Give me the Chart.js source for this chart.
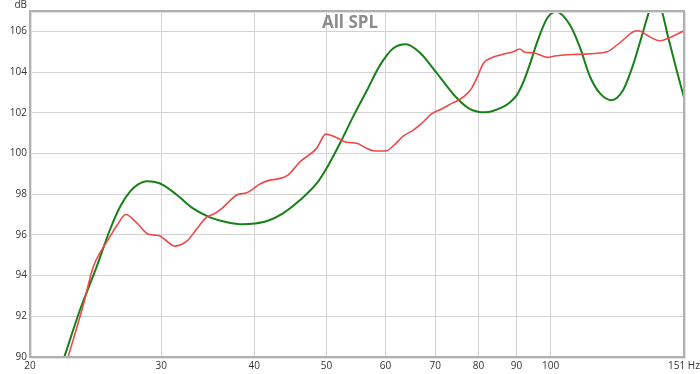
<!DOCTYPE html>
<html>
<head>
<meta charset="utf-8">
<script src="https://cdn.jsdelivr.net/npm/chart.js@4/dist/chart.umd.min.js"></script>
<style>
  html, body { margin: 0; padding: 0; background: #fff; }
  #wrap { width: 700px; height: 374px; position: relative; }
</style>
</head>
<body>
<div id="wrap"><canvas id="grafico"></canvas></div>
<script>
// datos (Hz, dB)
const medidaHz = [22.5, 23.6, 24.3, 25.0, 25.6, 26.2, 26.9, 27.8, 28.8, 29.4, 29.9, 30.4, 31.3, 32.5, 33.5, 34.5, 35.4, 36.2, 37.9, 39.1, 40.0, 40.7, 42.0, 42.9, 44.4, 46.1, 48.5, 49.9, 51.3, 53.2, 54.9, 56.3, 57.8, 60.0, 61.8, 63.4, 65.4, 67.0, 69.2, 71.5, 74.0, 75.5, 77.3, 78.3, 79.8, 81.2, 82.9, 86.3, 89.1, 90.9, 92.3, 94.8, 99.0, 101.8, 108.4, 119.0, 123.9, 130.4, 132.6, 134.6, 140.2, 144.6, 151];
const medidaDb = [90.0, 92.6, 94.4, 95.3, 95.9, 96.5, 97.0, 96.6, 96.04, 95.99, 95.95, 95.75, 95.45, 95.7, 96.3, 96.86, 97.05, 97.3, 97.96, 98.07, 98.3, 98.5, 98.69, 98.74, 98.94, 99.6, 100.25, 100.95, 100.82, 100.55, 100.5, 100.3, 100.13, 100.12, 100.45, 100.85, 101.15, 101.45, 101.95, 102.2, 102.5, 102.65, 102.95, 103.2, 103.8, 104.42, 104.67, 104.87, 105.0, 105.13, 104.97, 104.95, 104.72, 104.8, 104.87, 105.0, 105.45, 106.03, 105.98, 105.82, 105.54, 105.7, 106.03];

const modeloHz = [21.61, 22.24, 23.34, 24.58, 25.6, 26.42, 27.24, 27.93, 28.7, 29.43, 30.2, 31.5, 33.1, 34.89, 36.77, 38.63, 40.09, 41.61, 43.72, 46.08, 48.57, 50.25, 52.14, 54.28, 56.68, 59.01, 61.43, 63.95, 66.77, 70.37, 74.86, 77.93, 81.63, 86.3, 88.2, 90.12, 92.0, 93.81, 95.86, 98.87, 101.67, 106.16, 109.5, 112.94, 116.48, 120.51, 125.07, 128.99, 132.63, 135.52, 138.07, 141.09, 143.73, 147.78, 151];
const modeloDb = [88.6, 90.0, 92.31, 94.44, 96.24, 97.38, 98.12, 98.48, 98.64, 98.6, 98.45, 97.96, 97.3, 96.86, 96.62, 96.52, 96.56, 96.68, 97.06, 97.71, 98.55, 99.4, 100.5, 101.8, 103.11, 104.34, 105.16, 105.37, 104.95, 103.93, 102.71, 102.18, 102.02, 102.29, 102.52, 102.88, 103.55, 104.4, 105.45, 106.63, 106.96, 106.31, 105.2, 103.77, 102.95, 102.62, 103.11, 104.34, 105.81, 106.96, 107.7, 106.96, 105.73, 104.01, 102.75];

const ticksHz = [20, 30, 40, 50, 60, 70, 80, 90, 100, 151];
const ticksDb = [90, 92, 94, 96, 98, 100, 102, 104, 106];

const puntos = (xs, ys) => xs.map((x, i) => ({ x: x, y: ys[i] }));

// textos y marco del area
const extras = {
  id: "extras",
  afterDraw(chart) {
    const ctx = chart.ctx;
    const a = chart.chartArea;
    ctx.save();
    ctx.strokeStyle = "#e2e2e2";
    ctx.lineWidth = 1;
    ctx.strokeRect(a.left + 1.5, a.top + 1.5, a.right - a.left, a.bottom - a.top);
    ctx.strokeStyle = "#b0b0b0";
    ctx.lineWidth = 2;
    ctx.strokeRect(a.left, a.top, a.right - a.left, a.bottom - a.top);
    ctx.fillStyle = "#8c8c8c";
    ctx.font = "bold 17px 'Open Sans'";
    ctx.textAlign = "center";
    ctx.textBaseline = "alphabetic";
    ctx.fillText("All SPL", 350, 28);
    ctx.fillStyle = "#333";
    ctx.font = "10px 'Open Sans'";
    ctx.textAlign = "right";
    ctx.textBaseline = "middle";
    ctx.fillText("dB", 27, 5);
    ctx.restore();
  }
};

const config = {
  type: "line",
  data: {
    datasets: [
      {
        label: "Medida",
        data: puntos(medidaHz, medidaDb),
        borderColor: "rgb(238, 72, 72)",
        borderWidth: 1.6,
        pointRadius: 0,
        cubicInterpolationMode: "monotone"
      },
      {
        label: "Modelo",
        data: puntos(modeloHz, modeloDb),
        borderColor: "rgb(24, 128, 24)",
        borderWidth: 2,
        pointRadius: 0,
        cubicInterpolationMode: "monotone"
      }
    ]
  },
  options: {
    responsive: true,
    maintainAspectRatio: false,
    animation: false,
    layout: { padding: { top: 11, right: 16, left: 0, bottom: 0 } },
    plugins: { legend: { display: false }, tooltip: { enabled: false } },
    scales: {
      x: {
        type: "logarithmic",
        min: 20,
        max: 151,
        afterBuildTicks: (s) => { s.ticks = ticksHz.map(v => ({ value: v })); },
        afterFit: (s) => { s.height = 17; s.paddingLeft = 0; s.paddingRight = 0; },
        ticks: {
          autoSkip: false,
          maxRotation: 0,
          padding: 3,
          color: "#333",
          font: { family: "'Open Sans'", size: 10 },
          callback: (v) => v === 151 ? "151 Hz" : String(v)
        },
        grid: { color: "#d2d2d2", lineWidth: 1, drawTicks: false },
        border: { display: false }
      },
      y: {
        min: 90,
        max: 107,
        afterBuildTicks: (s) => { s.ticks = ticksDb.map(v => ({ value: v })); },
        afterFit: (s) => { s.width = 30; },
        ticks: {
          padding: 3,
          color: "#333",
          font: { family: "'Open Sans'", size: 10 }
        },
        grid: { color: "#d2d2d2", lineWidth: 1, drawTicks: false },
        border: { display: false }
      }
    }
  },
  plugins: [extras]
};

new Chart(document.getElementById("grafico"), config);
</script>
</body>
</html>
